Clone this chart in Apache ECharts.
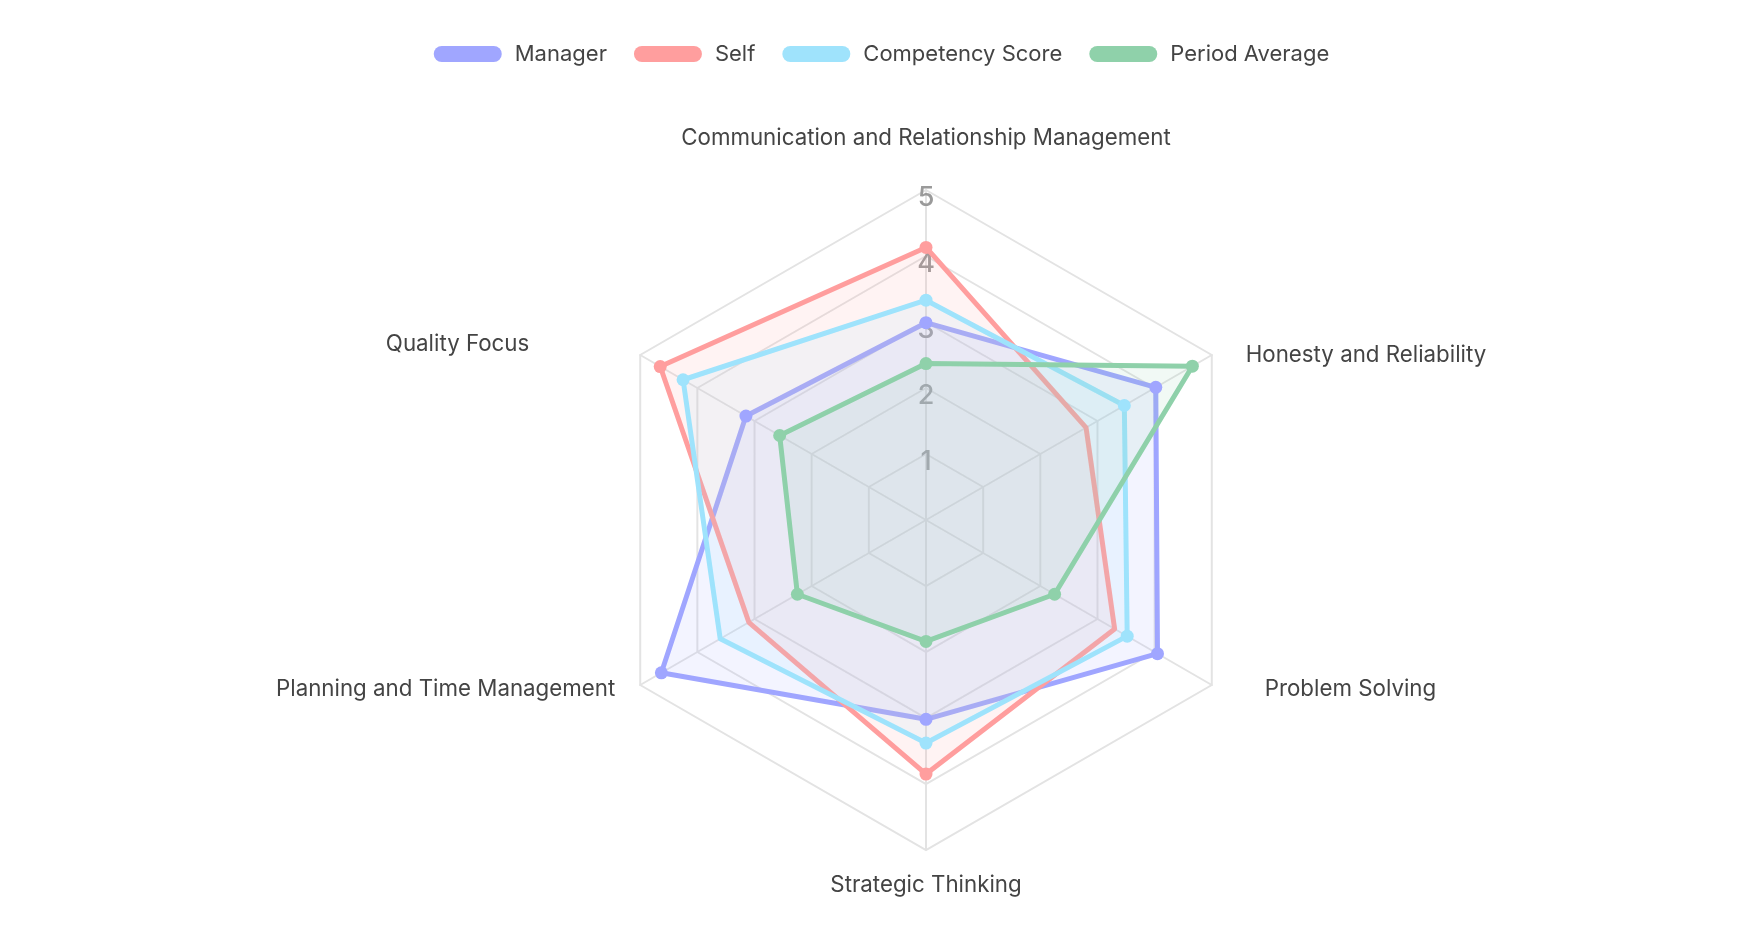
<!DOCTYPE html>
<html>
<head>
<meta charset="utf-8">
<script src="https://cdn.jsdelivr.net/npm/echarts@6/dist/echarts.min.js"></script>
<style>
html,body{margin:0;padding:0;background:#fff;}
#chart{width:1763px;height:935px;}
</style>
</head>
<body>
<div id="chart"></div>
<script>
// Indicators in ECharts order (counter-clockwise from top)
const indicators = [
  'Communication and Relationship Management',
  'Quality Focus',
  'Planning and Time Management',
  'Strategic Thinking',
  'Problem Solving',
  'Honesty and Reliability'
];
const maxScore = 5;
const seriesNames = ['Manager', 'Self', 'Competency Score', 'Period Average'];
const managerValues = [2.99, 3.15, 4.63, 3.02, 4.05, 4.02];
const selfValues = [4.13, 4.65, 3.10, 3.85, 3.30, 2.80];
const competencyValues = [3.33, 4.25, 3.60, 3.38, 3.52, 3.47];
const periodValues = [2.37, 2.56, 2.25, 1.84, 2.25, 4.66];
// which vertices show a point marker
const managerMarkers = [1, 1, 1, 1, 1, 1];
const selfMarkers = [1, 1, 0, 1, 0, 0];
const competencyMarkers = [1, 1, 0, 1, 1, 1];
const periodMarkers = [1, 1, 1, 1, 1, 1];

const colors = ['#a0a6ff', '#ff9e9e', '#9fe3fc', '#8fd1aa'];
const FONT = 'Inter, "Noto Sans", sans-serif';
const CENTER = [926, 520];
const RADIUS = 330;

const labelKeys = ['top', 'ul', 'll', 'bot', 'lr', 'ur'];
const labelPad = {
  top: [0, 0, 33, 0],
  ur: [9, 0, 0, 27],
  lr: [0, 0, 0, 46],
  bot: [16, 0, 0, 0],
  ll: [0, 18, 0, 0],
  ul: [0, 104, 14, 0]
};
const rich = {};
labelKeys.forEach(k => {
  rich[k] = { fontSize: 22.3, color: '#444', fontFamily: FONT, padding: labelPad[k] };
});

const allValues = [managerValues, selfValues, competencyValues, periodValues];
const allMarkers = [managerMarkers, selfMarkers, competencyMarkers, periodMarkers];

const lineItems = seriesNames.map((n, i) => ({
  name: n,
  value: allValues[i],
  symbol: 'none',
  lineStyle: { color: colors[i], width: 5 },
  itemStyle: { color: colors[i] },
  areaStyle: { color: colors[i], opacity: 0.12 }
}));

const dotSeries = seriesNames.map((n, i) => ({
  type: 'scatter',
  name: n,
  coordinateSystem: 'polar',
  symbolSize: 13,
  z: 5,
  itemStyle: { color: colors[i], opacity: 1 },
  data: allValues[i].map((v, j) => allMarkers[i][j] ? [v, j] : null).filter(d => d)
}));

const chart = echarts.init(document.getElementById('chart'));
chart.setOption({
  animation: false,
  color: colors,
  legend: {
    data: seriesNames.map(n => ({ name: n, icon: 'path://M8,0 L60,0 A8,8 0 0 1 60,16 L8,16 A8,8 0 0 1 8,0 Z', itemStyle: { color: colors[seriesNames.indexOf(n)] } })),
    top: 38,
    left: 'center',
    itemWidth: 68,
    itemHeight: 16,
    itemGap: 27,
    textStyle: { fontSize: 22, color: '#444', fontFamily: FONT, padding: [0, 0, 0, 8] }
  },
  polar: { center: CENTER, radius: RADIUS },
  angleAxis: {
    type: 'category',
    data: indicators,
    startAngle: 90,
    clockwise: false,
    boundaryGap: false,
    show: false
  },
  radiusAxis: { type: 'value', min: 0, max: maxScore, show: false },
  radar: {
    center: CENTER,
    radius: RADIUS,
    startAngle: 90,
    shape: 'polygon',
    splitNumber: 5,
    nameGap: 8,
    axisName: {
      color: '#444',
      fontSize: 22.3,
      fontFamily: FONT,
      formatter: function (name) {
        const k = labelKeys[indicators.indexOf(name)];
        return '{' + k + '|' + name + '}';
      },
      rich: rich
    },
    indicator: indicators.map((n, i) => {
      const o = { name: n, max: maxScore, min: 0 };
      if (i === 0) {
        o.axisLabel = {
          show: true, showMinLabel: false, color: '#9a9a9a', fontSize: 27, fontWeight: 500,
          fontFamily: FONT, margin: 0, align: 'center', verticalAlign: 'top', lineHeight: 16
        };
      }
      return o;
    }),
    axisLabel: { show: false },
    axisTick: { show: false },
    axisLine: { lineStyle: { color: '#e3e3e3', width: 2 } },
    splitLine: { lineStyle: { color: '#e3e3e3', width: 2 } },
    splitArea: { show: false }
  },
  series: [{
    type: 'radar',
    name: 'Ratings',
    data: lineItems
  }].concat(dotSeries)
});
</script>
</body>
</html>
